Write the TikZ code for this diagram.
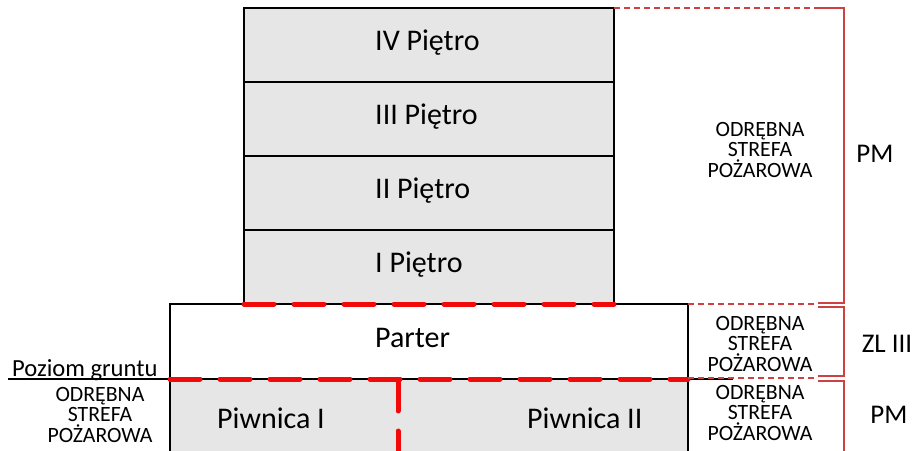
\documentclass[tikz,border=0pt]{standalone}
\usepackage{fontspec}
\setmainfont{Carlito}
\definecolor{floorgray}{RGB}{230,230,230}
\definecolor{firered}{RGB}{240,10,10}
\definecolor{zonered}{RGB}{205,65,65}
\begin{document}
\begin{tikzpicture}[x=1pt,y=-1pt,
  box/.style={draw=black,line width=1.3pt,rectangle,inner sep=0pt,outer sep=0pt,anchor=north west},
  storey/.style={box,fill=floorgray,minimum width=370pt,minimum height=74pt},
  wall/.style={draw=black,line width=1.3pt},
  bigred/.style={draw=firered,line width=5pt,dash pattern=on 30pt off 20pt,line cap=round},
  thinred/.style={draw=zonered,line width=1.4pt,dash pattern=on 6pt off 4pt},
  bracket/.style={draw=zonered,line width=1.6pt},
  lbl/.style={anchor=base west,font=\fontsize{30}{30}\selectfont,inner sep=0pt},
  zone/.style={align=center,font=\fontsize{21.8}{20.5}\selectfont,inner sep=0pt,anchor=base},
  cls/.style={anchor=base,font=\fontsize{27}{27}\selectfont,inner sep=0pt}]
\useasboundingbox (0,0) rectangle (917,450);

% ground floor and basement
\node[box,fill=white,minimum width=518pt,minimum height=75pt] (parter) at (170,304) {};
\node[box,fill=floorgray,minimum width=518pt,minimum height=100pt] (basement) at (170,379) {};

% upper storeys
\node[storey] (f4) at (244,8) {};
\node[storey] (f3) at (244,82) {};
\node[storey] (f2) at (244,156) {};
\node[storey] (f1) at (244,230) {};

% labels
\node[lbl] (l4) at (375,50) {IV Piętro};
\node[lbl] (l3) at (375,124) {III Piętro};
\node[lbl] (l2) at (375,198) {II Piętro};
\node[lbl] (l1) at (375,272) {I Piętro};
\node[lbl] (lp) at (375,347) {Parter};
\node[lbl] (lb1) at (217,428) {Piwnica I};
\node[lbl] (lb2) at (527,428) {Piwnica II};

% ground level
\coordinate (g0) at (8,379);
\draw[wall] (g0) -- (basement.north west);
\draw[wall] (basement.north east) -- ++(45,0);
\node[anchor=base west,font=\fontsize{24.6}{24.6}\selectfont,inner sep=0pt] (ground) at (12,376) {Poziom gruntu};

% fire walls
\coordinate (v0) at (398,381);
\coordinate (v1) at (398,470);
\draw[bigred] (f1.south west) -- (f1.south east);
\draw[bigred] (basement.north west) -- (basement.north east);
\draw[bigred] (v0) -- (v1);

% zone brackets
\coordinate (a1) at (818,8);
\coordinate (a2) at (818,303);
\coordinate (z1) at (818,307);
\coordinate (z2) at (818,376);
\coordinate (p1) at (818,381);
\coordinate (p2) at (818,470);
\draw[thinred] (f4.north east) -- (a1);
\draw[thinred] (parter.north east) -- (parter.north east -| a2);
\draw[thinred] (basement.north east) ++(0,-1) -- (818,378);
\draw[bracket] (a1) -- ++(26,0) -- ++(0,295) -- (a2);
\draw[bracket] (z1) -- ++(26,0) -- ++(0,69) -- (z2);
\draw[bracket] (p1) -- ++(26,0) -- ++(0,89) -- (p2);

% zone texts (anchor = baseline of last line)
\node[zone] (t1) at (760,177) {ODRĘBNA\\STREFA\\POŻAROWA};
\node[zone] (t2) at (760,371) {ODRĘBNA\\STREFA\\POŻAROWA};
\node[zone] (t3) at (760,440) {ODRĘBNA\\STREFA\\POŻAROWA};
\node[zone] (t4) at (100,442) {ODRĘBNA\\STREFA\\POŻAROWA};

\node[cls] (c1) at (875,162) {PM};
\node[cls] (c2) at (887,352) {ZL III};
\node[cls] (c3) at (889,423) {PM};
\end{tikzpicture}
\end{document}
